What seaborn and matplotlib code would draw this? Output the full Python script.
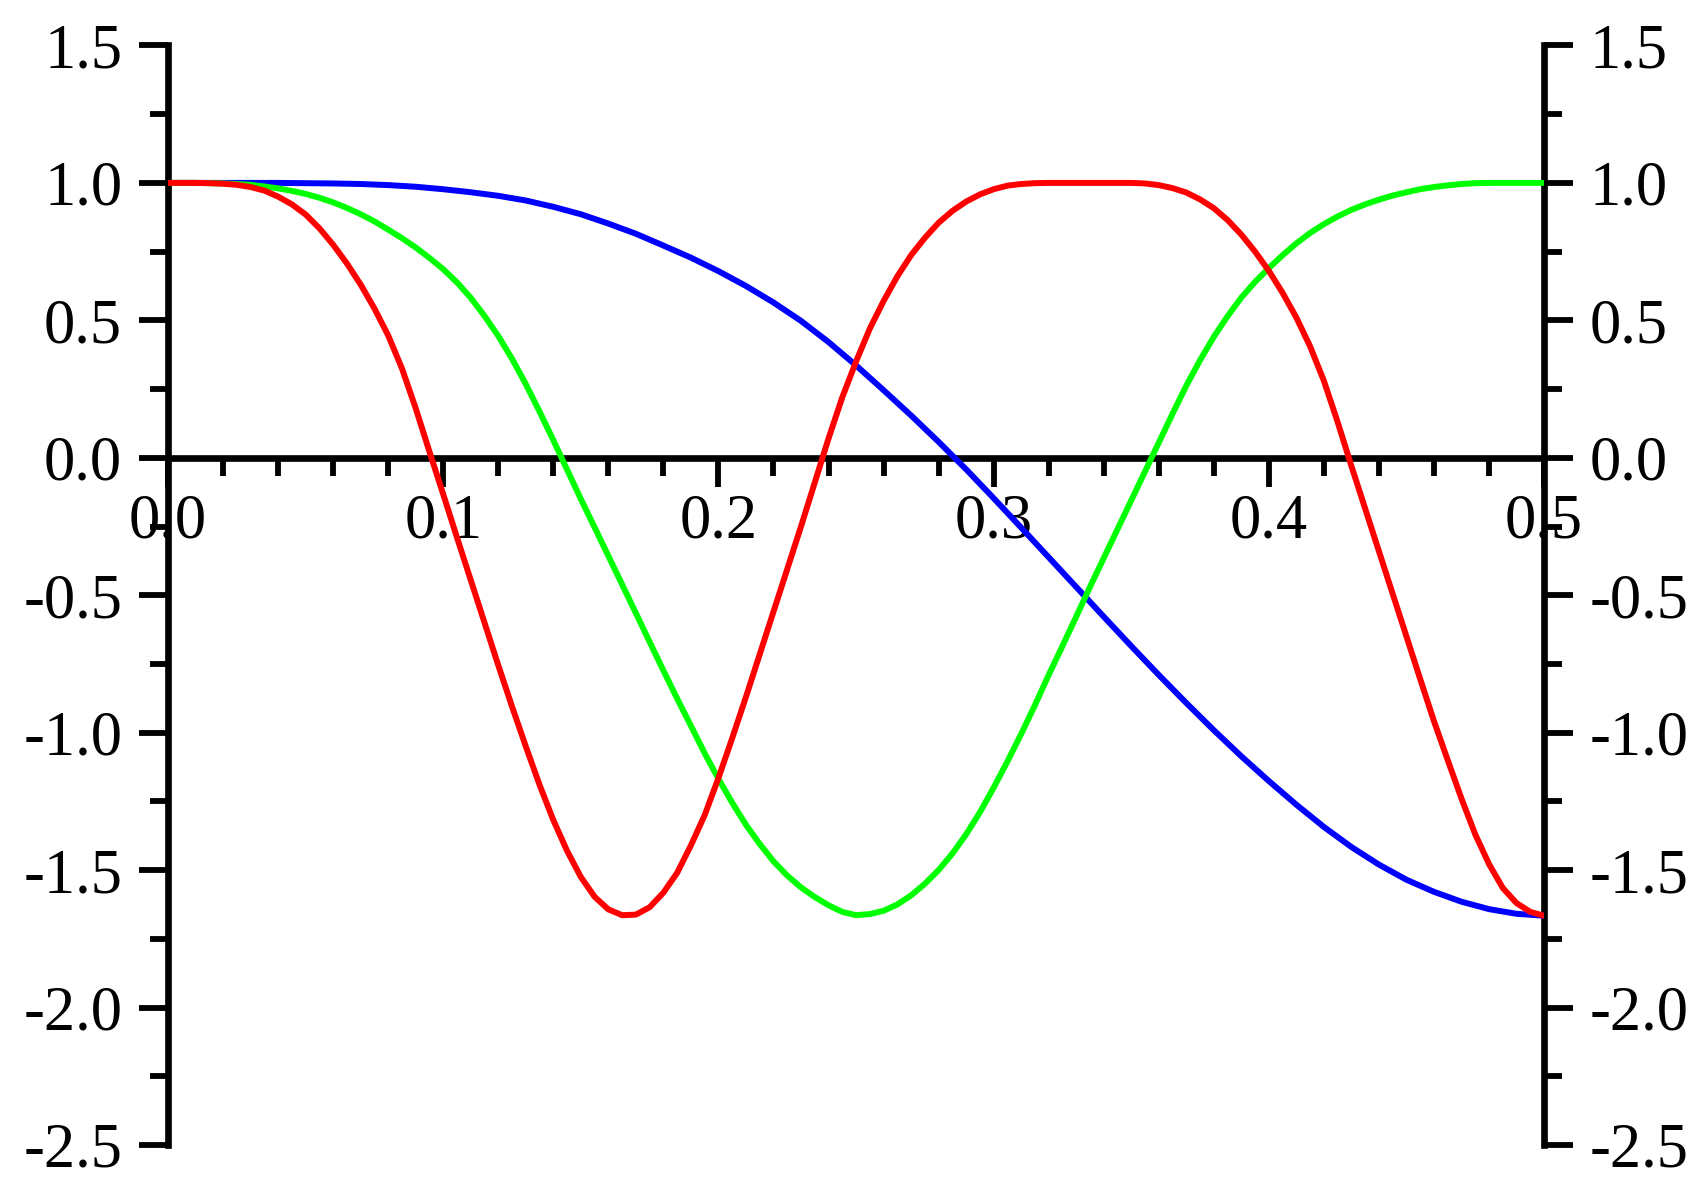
import matplotlib
matplotlib.use('Agg')
import matplotlib.pyplot as plt
import seaborn as sns
import pandas as pd
from matplotlib.ticker import MultipleLocator, FormatStrFormatter

# valores lidos do gráfico
# curva azul: passo de 0.01 em x
blue_x = [0.00, 0.01, 0.02, 0.03, 0.04, 0.05, 0.06, 0.07, 0.08, 0.09,
          0.10, 0.11, 0.12, 0.13, 0.14, 0.15, 0.16, 0.17, 0.18, 0.19,
          0.20, 0.21, 0.22, 0.23, 0.24, 0.25, 0.26, 0.27, 0.28, 0.29,
          0.30, 0.31, 0.32, 0.33, 0.34, 0.35, 0.36, 0.37, 0.38, 0.39,
          0.40, 0.41, 0.42, 0.43, 0.44, 0.45, 0.46, 0.47, 0.48, 0.49,
          0.50]
blue_y = [1.000, 1.000, 1.000, 1.000, 1.000, 0.999, 0.998, 0.996, 0.992, 0.986,
          0.977, 0.966, 0.953, 0.936, 0.913, 0.886, 0.852, 0.815, 0.772, 0.728,
          0.679, 0.625, 0.565, 0.498, 0.421, 0.336, 0.246, 0.154, 0.058, -0.042,
          -0.147, -0.254, -0.362, -0.470, -0.578, -0.685, -0.790, -0.892, -0.991, -1.086,
          -1.176, -1.262, -1.343, -1.416, -1.480, -1.535, -1.579, -1.615, -1.642, -1.659,
          -1.666]

# curvas verde e vermelha: passo de 0.005 em x
fine_x = [0.000, 0.005, 0.010, 0.015, 0.020, 0.025, 0.030, 0.035, 0.040, 0.045,
          0.050, 0.055, 0.060, 0.065, 0.070, 0.075, 0.080, 0.085, 0.090, 0.095,
          0.100, 0.105, 0.110, 0.115, 0.120, 0.125, 0.130, 0.135, 0.140, 0.145,
          0.150, 0.155, 0.160, 0.165, 0.170, 0.175, 0.180, 0.185, 0.190, 0.195,
          0.200, 0.205, 0.210, 0.215, 0.220, 0.225, 0.230, 0.235, 0.240, 0.245,
          0.250, 0.255, 0.260, 0.265, 0.270, 0.275, 0.280, 0.285, 0.290, 0.295,
          0.300, 0.305, 0.310, 0.315, 0.320, 0.325, 0.330, 0.335, 0.340, 0.345,
          0.350, 0.355, 0.360, 0.365, 0.370, 0.375, 0.380, 0.385, 0.390, 0.395,
          0.400, 0.405, 0.410, 0.415, 0.420, 0.425, 0.430, 0.435, 0.440, 0.445,
          0.450, 0.455, 0.460, 0.465, 0.470, 0.475, 0.480, 0.485, 0.490, 0.495,
          0.500]

green_y = [1.000, 1.000, 1.000, 0.999, 0.998, 0.996, 0.993, 0.987, 0.980, 0.971,
           0.960, 0.946, 0.929, 0.909, 0.886, 0.860, 0.830, 0.799, 0.765, 0.727,
           0.686, 0.638, 0.582, 0.516, 0.443, 0.360, 0.268, 0.168, 0.064, -0.043,
           -0.150, -0.253, -0.357, -0.461, -0.565, -0.670, -0.774, -0.876, -0.975, -1.075,
           -1.168, -1.255, -1.335, -1.405, -1.468, -1.520, -1.563, -1.598, -1.628, -1.652,
           -1.664, -1.660, -1.648, -1.625, -1.592, -1.550, -1.500, -1.440, -1.370, -1.290,
           -1.200, -1.105, -1.005, -0.900, -0.790, -0.685, -0.578, -0.470, -0.365, -0.260,
           -0.155, -0.050, 0.055, 0.160, 0.262, 0.355, 0.440, 0.515, 0.583, 0.640,
           0.690, 0.737, 0.780, 0.818, 0.850, 0.878, 0.902, 0.922, 0.939, 0.954,
           0.966, 0.977, 0.985, 0.991, 0.996, 0.999, 1.000, 1.000, 1.000, 1.000,
           1.000]

red_y = [1.000, 1.000, 1.000, 0.999, 0.997, 0.993, 0.985, 0.972, 0.950, 0.922,
         0.885, 0.835, 0.775, 0.707, 0.630, 0.543, 0.445, 0.325, 0.180, 0.022,
         -0.133, -0.290, -0.445, -0.600, -0.755, -0.905, -1.050, -1.190, -1.318, -1.430,
         -1.525, -1.597, -1.643, -1.664, -1.662, -1.635, -1.582, -1.510, -1.410, -1.300,
         -1.165, -1.020, -0.870, -0.715, -0.560, -0.405, -0.250, -0.090, 0.070, 0.220,
         0.350, 0.470, 0.570, 0.660, 0.737, 0.800, 0.855, 0.898, 0.932, 0.958,
         0.977, 0.990, 0.996, 0.999, 1.000, 1.000, 1.000, 1.000, 1.000, 1.000,
         1.000, 0.998, 0.992, 0.981, 0.965, 0.940, 0.908, 0.865, 0.812, 0.750,
         0.680, 0.600, 0.510, 0.405, 0.280, 0.130, -0.030, -0.185, -0.340, -0.495,
         -0.650, -0.805, -0.958, -1.100, -1.240, -1.370, -1.478, -1.565, -1.620, -1.652,
         -1.666]

df_blue = pd.DataFrame({'x': blue_x, 'y': blue_y})
df_fine = pd.DataFrame({'x': fine_x, 'green': green_y, 'red': red_y})

sns.set_style('white')
plt.rcParams['font.family'] = ['Liberation Serif', 'DejaVu Serif']
plt.rcParams['axes.unicode_minus'] = False

fig = plt.figure(figsize=(16.99, 11.87), dpi=100)
ax = fig.add_axes([0.0989, 0.0354, 0.8099, 0.9263])

sns.lineplot(data=df_blue, x='x', y='y', color='#0000ff', linewidth=4.3, ax=ax, zorder=3)
sns.lineplot(data=df_fine, x='x', y='green', color='#00ff00', linewidth=4.3, ax=ax, zorder=3)
sns.lineplot(data=df_fine, x='x', y='red', color='#ff0000', linewidth=4.3, ax=ax, zorder=3)

ax.set_xlim(0, 0.5)
ax.set_ylim(-2.5, 1.5)
ax.set_xlabel('')
ax.set_ylabel('')
ax.grid(False)

# eixos: x passa por y=0, escala y dos dois lados
ax.spines['top'].set_visible(False)
ax.spines['bottom'].set_position(('data', 0))
for s in ['left', 'right', 'bottom']:
    ax.spines[s].set_linewidth(4.8)
    ax.spines[s].set_color('black')
    ax.spines[s].set_zorder(2)

ax.xaxis.set_major_locator(MultipleLocator(0.1))
ax.xaxis.set_minor_locator(MultipleLocator(0.02))
ax.yaxis.set_major_locator(MultipleLocator(0.5))
ax.yaxis.set_minor_locator(MultipleLocator(0.25))
ax.xaxis.set_major_formatter(FormatStrFormatter('%.1f'))
ax.yaxis.set_major_formatter(FormatStrFormatter('%.1f'))

ax.tick_params(axis='both', which='major', direction='out', length=21, width=4.2,
               labelsize=45, color='black', labelcolor='black')
ax.tick_params(axis='both', which='minor', direction='out', length=13, width=4.2, color='black')
ax.tick_params(axis='x', which='both', bottom=True, top=False, pad=5)
ax.tick_params(axis='y', which='both', left=True, right=True, labelleft=True, labelright=True, pad=12)

fig.savefig('out.png', dpi=100)
